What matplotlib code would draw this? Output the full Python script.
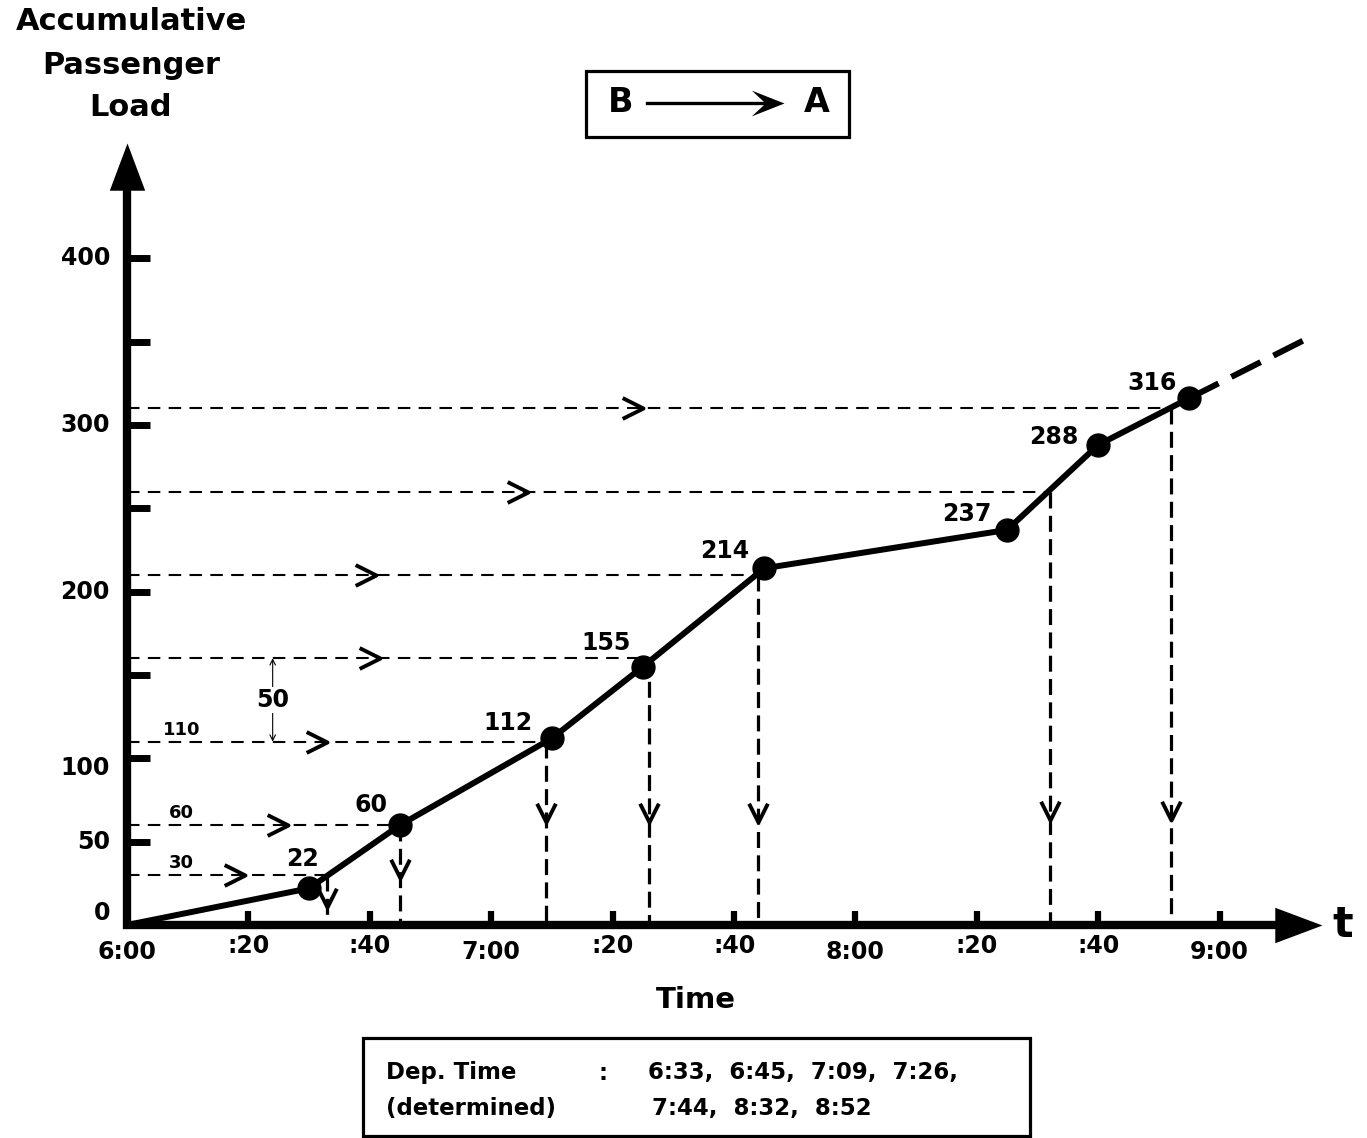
import matplotlib
matplotlib.use("Agg")
import matplotlib.pyplot as plt
from matplotlib.path import Path
from matplotlib.patches import Rectangle

plt.rcParams["font.family"] = ["DejaVu Sans"]
plt.rcParams["font.weight"] = "bold"

# ---- data (minutes after 6:00, accumulative load) ----
point_min = [0, 30, 45, 70, 85, 105, 145, 160, 175]
point_load = [0, 22, 60, 112, 155, 214, 237, 288, 316]
ext_min, ext_load = 194, 351          # dashed continuation after 8:55

dep_min = [33, 45, 69, 86, 104, 152, 172]     # determined departures
dep_load = [30, 60, 110, 160, 210, 260, 310]  # 30 + k*50
dep_text_1 = "6:33,  6:45,  7:09,  7:26,"
dep_text_2 = "7:44,  8:32,  8:52"

ytick_vals = [50, 100, 150, 200, 250, 300, 350, 400]
ylabel_vals = [0, 50, 100, 200, 300, 400]
xtick_min = [0, 20, 40, 60, 80, 100, 120, 140, 160, 180]
xtick_lbl = ["6:00", ":20", ":40", "7:00", ":20", ":40", "8:00", ":20", ":40", "9:00"]

# ---- canvas: one full-figure axes, data units mapped onto pixels ----
W, H = 1367, 1138
X0, Y0 = 127, 925          # pixel of (6:00, 0)
PXM, PXL = 6.07, 1.667     # px per minute, px per passenger

fig = plt.figure(figsize=(W / 100, H / 100), dpi=100)
ax = fig.add_axes([0, 0, 1, 1])
ax.set_xlim(-X0 / PXM, (W - X0) / PXM)
ax.set_ylim((Y0 - H) / PXL, Y0 / PXL)
ax.axis("off")


def fp(x, y):
    return x / W, 1 - y / H


# axes with arrow heads
y_top = (Y0 - 143) / PXL
x_end = (1322 - X0) / PXM
ax.plot([0, 0], [-2.5, y_top - 20], color="k", lw=6, solid_capstyle="butt")
ax.plot([-0.6, x_end - 6], [0, 0], color="k", lw=6, solid_capstyle="butt")
up_head = Path([(0, 0), (-0.75, -2), (0.75, -2), (0, 0)],
               [Path.MOVETO, Path.LINETO, Path.LINETO, Path.CLOSEPOLY])
right_head = Path([(0, 0), (-2, 0.75), (-2, -0.75), (0, 0)],
                  [Path.MOVETO, Path.LINETO, Path.LINETO, Path.CLOSEPOLY])
ax.plot([0], [y_top], marker=up_head, ms=68, color="k", mew=0)
ax.plot([x_end], [0], marker=right_head, ms=68, color="k", mew=0)

# ticks
for v in ytick_vals:
    ax.plot([0, 23 / PXM], [v, v], color="k", lw=5, solid_capstyle="butt")
for m in xtick_min[1:]:
    ax.plot([m, m], [0, 14 / PXL], color="k", lw=4.5, solid_capstyle="butt")

for v in ylabel_vals:
    yy = {0: 7, 100: 94}.get(v, v)
    ax.text(-17 / PXM, yy, str(v), ha="right", va="center", fontsize=17)
for m, s in zip(xtick_min, xtick_lbl):
    yy = -12.6 if s.startswith(":") else -16.2
    ax.text(m, yy, s, ha="center", va="center", fontsize=17)

# dashed construction lines
chev_min = [19.4, 26.5, 33, 41.7, 41, 66, 85]
v_tip = [11, 28, 62, 62, 62, 63, 63]
chev_r = Path([(-2, 1), (0, 0), (-2, -1)], [Path.MOVETO, Path.LINETO, Path.LINETO])
chev_d = Path([(-1, 2), (0, 0), (1, 2)], [Path.MOVETO, Path.LINETO, Path.LINETO])
for m, L, cm, vt in zip(dep_min, dep_load, chev_min, v_tip):
    ax.plot([0, m], [L, L], color="k", lw=1.5, dashes=(6, 4))
    ax.plot([m, m], [L, 0], color="k", lw=2.3, dashes=(5, 2.3))
    ax.plot([cm], [L], marker=chev_r, ms=30, mfc="none", mec="k", mew=2.8)
    ax.plot([m], [vt], marker=chev_d, ms=27, mfc="none", mec="k", mew=2.8)

# small labels on the first lines
for L in dep_load[:3]:
    ax.text(9, L + 7, str(L), ha="center", va="center", fontsize=13)

# 50-passenger spacing marker
ax.annotate("", xy=(24, dep_load[3]), xytext=(24, dep_load[2]),
            arrowprops=dict(arrowstyle="<->", lw=0.8, color="k",
                            shrinkA=0, shrinkB=0))
ax.text(24, 135, "50", ha="center", va="center", fontsize=17,
        bbox=dict(fc="white", ec="none", pad=1))

# cumulative load curve
ax.plot(point_min, point_load, color="k", lw=4.3, solid_joinstyle="round",
        zorder=5)
ax.plot([point_min[-1], ext_min], [point_load[-1], ext_load], color="k",
        lw=4.3, dashes=(5.5, 2.4), zorder=5)
ax.plot(point_min[1:], point_load[1:], "o", color="k", ms=16.5, zorder=6)

lbl_off = [(-7, 29), (-29, 20), (-44, 15), (-37, 24), (-40, 17),
           (-40, 16), (-44, 8), (-37, 15)]
for m, L, off in zip(point_min[1:], point_load[1:], lbl_off):
    ax.annotate(str(L), (m, L), xytext=off, textcoords="offset pixels",
                ha="center", va="center", fontsize=17)

# axis titles
for txt, y in zip(["Accumulative", "Passenger", "Load"], [22, 66, 108]):
    fig.text(*fp(131, y), txt, ha="center", va="center", fontsize=22)
fig.text(*fp(696, 1000), "Time", ha="center", va="center", fontsize=21)
fig.text(*fp(1343, 925), "t", ha="center", va="center", fontsize=31)

# B -> A box
x, y = fp(586, 137)
fig.patches.append(Rectangle((x, y), 263 / W, 66 / H, transform=fig.transFigure,
                             fill=False, ec="k", lw=2.3))
fig.text(*fp(621, 103), "B", ha="center", va="center", fontsize=24)
fig.text(*fp(817, 103), "A", ha="center", va="center", fontsize=24)
ax.plot([fp(647, 0)[0], fp(770, 0)[0]], [fp(0, 103)[1]] * 2,
        transform=fig.transFigure, color="k", lw=2.4)
barb_head = Path([(0, 0), (-33, 13), (-19, 0), (-33, -13), (0, 0)],
                 [Path.MOVETO, Path.LINETO, Path.LINETO, Path.LINETO, Path.CLOSEPOLY])
ax.plot([fp(784, 0)[0]], [fp(0, 103)[1]], transform=fig.transFigure,
        marker=barb_head, ms=47, color="k", mew=0)

# departure time box
x, y = fp(363, 1136)
fig.patches.append(Rectangle((x, y), 667 / W, 98 / H, transform=fig.transFigure,
                             fill=False, ec="k", lw=2.3))
fig.text(*fp(386, 1073), "Dep. Time", ha="left", va="center", fontsize=16.5)
fig.text(*fp(603, 1073), ":", ha="center", va="center", fontsize=16.5)
fig.text(*fp(648, 1073), dep_text_1, ha="left", va="center", fontsize=16.5)
fig.text(*fp(386, 1108), "(determined)", ha="left", va="center", fontsize=16.5)
fig.text(*fp(652, 1108), dep_text_2, ha="left", va="center", fontsize=16.5)

fig.savefig("out.png", dpi=100)
